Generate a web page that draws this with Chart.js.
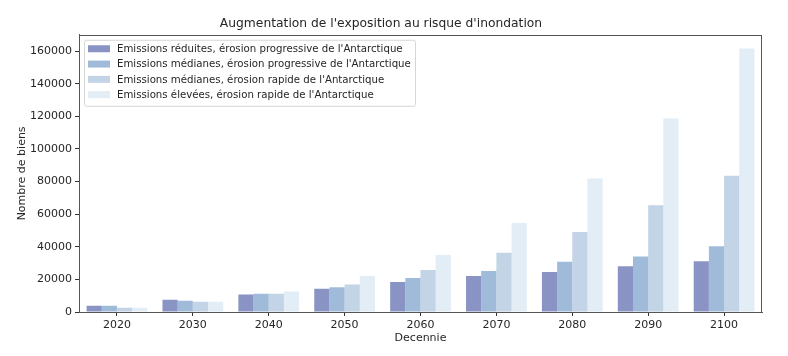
<!DOCTYPE html>
<html>
<head>
<meta charset="utf-8">
<script src="https://cdn.jsdelivr.net/npm/chart.js@4/dist/chart.umd.min.js"></script>
<style>
  html, body { margin: 0; padding: 0; background: #ffffff; }
  #wrap { width: 788px; height: 356px; }
</style>
</head>
<body>
<div id="wrap"><canvas id="c" width="788" height="356"></canvas></div>
<script>
const decades = ['2020', '2030', '2040', '2050', '2060', '2070', '2080', '2090', '2100'];
const seriesLabels = [
  "Emissions réduites, érosion progressive de l'Antarctique",
  "Emissions médianes, érosion progressive de l'Antarctique",
  "Emissions médianes, érosion rapide de l'Antarctique",
  "Emissions élevées, érosion rapide de l'Antarctique"
];
const lowProgressive  = [3900, 7500, 10800, 14300, 18400, 22000, 24500, 28000, 31100];
const midProgressive  = [3800, 6900, 11200, 15100, 20800, 25100, 30800, 34100, 40300];
const midRapid        = [2600, 6300, 11200, 16900, 25700, 36300, 49000, 65400, 83600];
const highRapid       = [2600, 6300, 12500, 22100, 34900, 54500, 81800, 118600, 161600];
const yTicks = [0, 20000, 40000, 60000, 80000, 100000, 120000, 140000, 160000];
const seriesColors = ['#8a94c4', '#a0bbd9', '#c2d4e5', '#e2edf5'];

const FONT = "'DejaVu Sans', sans-serif";
const seriesValues = [lowProgressive, midProgressive, midRapid, highRapid];

const frame = {
  id: 'frame',
  afterDatasetsDraw(chart) {
    const a = chart.chartArea, ctx = chart.ctx;
    ctx.save();
    ctx.strokeStyle = '#555555';
    ctx.lineWidth = 1;
    ctx.strokeRect(Math.round(a.left) + 0.5, Math.round(a.top) + 0.5,
                   Math.round(a.right - a.left) - 1, Math.round(a.bottom - a.top));
    ctx.restore();
  }
};

const innerLegend = {
  id: 'innerLegend',
  afterDraw(chart) {
    const ctx = chart.ctx, a = chart.chartArea;
    const x0 = a.left + 5, y0 = a.top + 5, w = 331, h = 66;
    ctx.save();
    ctx.globalAlpha = 0.85;
    ctx.fillStyle = '#ffffff';
    ctx.beginPath();
    ctx.roundRect(x0 + 0.5, y0 + 0.5, w, h, 2);
    ctx.fill();
    ctx.globalAlpha = 1;
    ctx.strokeStyle = '#d6d6d6';
    ctx.lineWidth = 1;
    ctx.stroke();
    ctx.font = '10.2px ' + FONT;
    ctx.textBaseline = 'middle';
    chart.data.datasets.forEach((ds, i) => {
      const cy = y0 + 9 + i * 15.3;
      ctx.fillStyle = ds.backgroundColor;
      ctx.fillRect(x0 + 4, cy - 3.5, 22, 7);
      ctx.fillStyle = '#262626';
      ctx.fillText(ds.label, x0 + 33, cy + 0.5);
    });
    ctx.restore();
  }
};

new Chart(document.getElementById('c'), {
  type: 'bar',
  data: {
    labels: decades,
    datasets: seriesLabels.map((lab, i) => ({
      label: lab,
      data: seriesValues[i],
      backgroundColor: seriesColors[i],
      borderWidth: 0,
      categoryPercentage: 0.8,
      barPercentage: 1.0
    }))
  },
  options: {
    responsive: false,
    animation: false,
    layout: { padding: { left: 0, right: 26, top: 0, bottom: 0 } },
    plugins: {
      legend: { display: false },
      tooltip: { enabled: false },
      title: {
        display: true,
        text: "Augmentation de l'exposition au risque d'inondation",
        color: '#262626',
        font: { family: FONT, size: 12.3, weight: 'normal' },
        padding: { top: 16, bottom: 4 }
      }
    },
    scales: {
      x: {
        offset: true,
        grid: { display: true, offset: false, drawOnChartArea: false, drawTicks: true, tickLength: 4, color: '#333333' },
        border: { display: true, color: '#555555' },
        ticks: { color: '#262626', font: { family: FONT, size: 11 }, padding: 3, maxRotation: 0 },
        title: { display: true, text: 'Decennie', color: '#262626', font: { family: FONT, size: 11 }, padding: { top: 0, bottom: 11.5 } },
        afterFit(s) { s.height = 44; }
      },
      y: {
        min: 0,
        max: 170000,
        afterBuildTicks(s) { s.ticks = yTicks.map(v => ({ value: v })); },
        grid: { display: true, drawOnChartArea: false, drawTicks: true, tickLength: 4, color: '#333333' },
        border: { display: true, color: '#555555' },
        ticks: { color: '#262626', font: { family: FONT, size: 11 }, padding: 3, callback: v => String(v) },
        title: { display: true, text: 'Nombre de biens', color: '#262626', font: { family: FONT, size: 11 }, padding: { top: 15.5, bottom: 0 } },
        afterFit(s) { s.width = 79; }
      }
    }
  },
  plugins: [frame, innerLegend]
});
</script>
</body>
</html>
